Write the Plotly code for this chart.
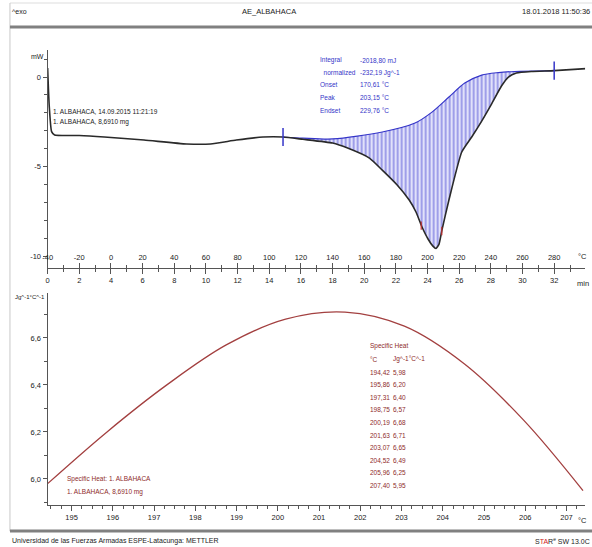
import plotly.graph_objects as go

W, H = 592, 547


def px(x):
    return x / W


def py(y):
    return 1 - y / H


# ---------------- data ----------------
# DSC curve (time in min, heat flow in mW)
dsc_time = [0.0, 0.1, 0.25, 0.44, 2.0, 3.58, 6.09, 8.78, 10.29, 11.92, 13.61, 14.87,
            16.12, 18.0, 18.95, 20.33, 21.14, 22.08, 22.84, 23.27, 23.65, 24.03, 24.34,
            24.53, 24.72, 24.91, 25.35, 26.16, 26.79, 27.42, 28.04, 28.67, 29.11, 29.61,
            30.55, 32.0, 34.0]
dsc_mw = [0.5, -1.6, -3.05, -3.24, -3.27, -3.35, -3.52, -3.74, -3.74, -3.52, -3.35, -3.35,
          -3.48, -3.69, -3.97, -4.53, -5.20, -6.03, -6.87, -7.54, -8.38, -9.05, -9.45,
          -9.58, -9.35, -8.55, -6.87, -4.19, -3.35, -2.46, -1.51, -0.50, 0.0, 0.22,
          0.31, 0.36, 0.47]

# integration baseline
base_time = [14.87, 16.12, 18.0, 21.14, 23.21, 24.28, 25.35, 26.35, 27.42, 28.48, 29.49, 32.0]
base_mw = [-3.35, -3.41, -3.46, -3.07, -2.57, -1.96, -1.12, -0.34, 0.11, 0.25, 0.31, 0.36]

# small onset / endset markers
mark_time = [23.6, 24.9]
mark_mw = [-8.3, -8.6]

T_START = -40.0      # degC at t = 0
RATE = 10.0          # K/min
TIME_RANGE = [0.0, 33.95]

time_ticks = list(range(0, 33, 2))
temp_ticks = list(range(-40, 281, 20))

# integration results
result_labels = ["Integral", "  normalized", "Onset", "Peak", "Endset"]
result_values = ["-2018,80 mJ", "-232,19 Jg^-1", "170,61 °C", "203,15 °C", "229,76 °C"]

# specific heat
cp_temp = [194.42, 195.86, 197.31, 198.75, 200.19, 201.63, 203.07, 204.52, 205.96, 207.40]
cp_val = [5.98, 6.20, 6.40, 6.57, 6.68, 6.71, 6.65, 6.49, 6.25, 5.95]
cp_ticks = list(range(195, 208))
cp_yticks = [6.0, 6.2, 6.4, 6.6]

FONT = "Liberation Sans Narrow, Liberation Sans, Arial, sans-serif"
BLUE = "#3535c8"
DRED = "#8e2b2b"
CURVE_RED = "#a34040"
AX = "#555555"

fig = go.Figure()

# ---- DSC traces ----
seg_t = [t for t in dsc_time if base_time[0] <= t <= base_time[-1]]
seg_m = [m for t, m in zip(dsc_time, dsc_mw) if base_time[0] <= t <= base_time[-1]]

fig.add_trace(go.Scatter(x=seg_t, y=seg_m, mode="lines", xaxis="x", yaxis="y",
                         line=dict(color="rgba(0,0,0,0)", width=0, shape="spline", smoothing=0.5),
                         hoverinfo="skip", showlegend=False))
fig.add_trace(go.Scatter(x=base_time, y=base_mw, mode="lines", xaxis="x", yaxis="y",
                         line=dict(color=BLUE, width=1.2, shape="spline", smoothing=0.8),
                         fill="tonexty", fillcolor="rgba(195,195,245,0.6)",
                         fillpattern=dict(shape="|", fgcolor="rgba(50,50,205,0.85)",
                                          bgcolor="rgba(200,200,245,0.55)", size=4, solidity=0.45),
                         hoverinfo="skip", showlegend=False))
fig.add_trace(go.Scatter(x=dsc_time, y=dsc_mw, mode="lines", xaxis="x", yaxis="y",
                         line=dict(color="#2a2a2a", width=1.6, shape="spline", smoothing=0.5),
                         showlegend=False))
# integration limits
fig.add_trace(go.Scatter(x=[base_time[0], base_time[-1]], y=[base_mw[0], base_mw[-1]],
                         mode="markers", xaxis="x", yaxis="y",
                         marker=dict(symbol="line-ns", size=13, line=dict(color=BLUE, width=1.5)),
                         showlegend=False))
fig.add_trace(go.Scatter(x=mark_time, y=mark_mw, mode="markers", xaxis="x", yaxis="y",
                         marker=dict(symbol="line-ns", size=6, line=dict(color="#c03030", width=1.2)),
                         showlegend=False))
# dummy for temperature axis
fig.add_trace(go.Scatter(x=[T_START + RATE * TIME_RANGE[0], T_START + RATE * TIME_RANGE[1]],
                         y=[0, 0], mode="markers", xaxis="x3", yaxis="y",
                         marker=dict(opacity=0), hoverinfo="skip", showlegend=False))

# ---- Cp trace ----
fig.add_trace(go.Scatter(x=cp_temp, y=cp_val, mode="lines", xaxis="x2", yaxis="y2",
                         line=dict(color=CURVE_RED, width=1.3, shape="spline", smoothing=1.0),
                         showlegend=False))

tickfont = dict(family=FONT, size=7.5, color="#222")
xdom = [px(43), px(585)]

fig.update_layout(
    width=W, height=H,
    margin=dict(l=0, r=0, t=0, b=0),
    paper_bgcolor="white", plot_bgcolor="white",
    font=dict(family=FONT, size=7.5, color="#222"),
    showlegend=False,
    xaxis=dict(domain=xdom, anchor="y", range=TIME_RANGE, tickvals=time_ticks,
               ticktext=[str(v) for v in time_ticks],
               showgrid=False, zeroline=False, showline=True, linecolor=AX, linewidth=1.2,
               ticks="outside", ticklen=5, tickcolor=AX, tickfont=tickfont,
               minor=dict(dtick=1, tick0=0, ticks="outside", ticklen=3, tickcolor=AX, showgrid=False)),
    xaxis3=dict(overlaying="x", side="top", anchor="free", position=py(268),
                range=[T_START + RATE * TIME_RANGE[0], T_START + RATE * TIME_RANGE[1]],
                tickvals=temp_ticks, ticktext=[str(v) for v in temp_ticks],
                showgrid=False, zeroline=False, showline=False,
                ticks="outside", ticklen=5, tickcolor=AX, tickfont=tickfont,
                minor=dict(dtick=10, tick0=-40, ticks="outside", ticklen=3, tickcolor=AX, showgrid=False)),
    yaxis=dict(domain=[py(268), py(50)], anchor="x", range=[-10.67, 1.51],
               tickvals=[-10, -5, 0], ticktext=["-10", "-5", "0"],
               showgrid=False, zeroline=False, showline=True, linecolor=AX, linewidth=1.2,
               ticks="outside", ticklen=4, tickcolor=AX, tickfont=tickfont,
               minor=dict(dtick=1, tick0=0, ticks="outside", ticklen=3, tickcolor=AX, showgrid=False)),
    xaxis2=dict(domain=xdom, anchor="y2", range=[194.42, 207.45], tickvals=cp_ticks,
                ticktext=[str(v) for v in cp_ticks],
                showgrid=False, zeroline=False, showline=True, linecolor=AX, linewidth=1.2,
                ticks="outside", ticklen=5, tickcolor=AX, tickfont=tickfont,
                minor=dict(dtick=0.25, tick0=195, ticks="outside", ticklen=3, tickcolor=AX, showgrid=False)),
    yaxis2=dict(domain=[py(505), py(293)], anchor="x2", range=[5.889, 6.791],
                tickvals=cp_yticks, ticktext=[f"{v:.1f}".replace(".", ",") for v in cp_yticks],
                showgrid=False, zeroline=False, showline=True, linecolor=AX, linewidth=1.2,
                ticks="outside", ticklen=4, tickcolor=AX, tickfont=tickfont,
                minor=dict(dtick=0.1, tick0=6.0, ticks="outside", ticklen=3, tickcolor=AX, showgrid=False)),
)

# ---- frame shapes ----
shapes = [
    dict(type="line", xref="paper", yref="paper", x0=px(5), x1=1, y0=py(3), y1=py(3),
         line=dict(color="#dddddd", width=1)),
    dict(type="line", xref="paper", yref="paper", x0=px(5), x1=px(5), y0=py(3), y1=py(531),
         line=dict(color="#c8c8c8", width=1)),
    dict(type="line", xref="paper", yref="paper", x0=px(5), x1=1, y0=py(27), y1=py(27),
         line=dict(color="#808080", width=3)),
    dict(type="line", xref="paper", yref="paper", x0=px(5), x1=1, y0=py(531), y1=py(531),
         line=dict(color="#808080", width=3)),
]
fig.update_layout(shapes=shapes)

ann = []


def add_text(x, y, text, color="#222", size=7, xanchor="left"):
    ann.append(dict(x=px(x), y=py(y), xref="paper", yref="paper", text=text, showarrow=False,
                    xanchor=xanchor, yanchor="middle", borderpad=0,
                    font=dict(family=FONT, size=size, color=color)))


# header / footer
add_text(6, 11, "^exo", size=7)
add_text(266, 11, "AE_ALBAHACA", size=7.5, xanchor="center")
add_text(591, 11, "18.01.2018 11:50:36", size=7.5, xanchor="right")
add_text(6, 541, "Universidad de las Fuerzas Armadas ESPE-Latacunga: METTLER", size=7)
add_text(591, 541, "S<span style='color:#d02020'>TA</span>R<sup>e</sup> SW 13.0C", size=7, xanchor="right")

# top axis labels
add_text(40, 57, "mW", size=7, xanchor="right")
add_text(588, 256, "°C", size=7.5, xanchor="right")
add_text(590, 283, "min", color="#222222", size=7.5, xanchor="right")

# sample info
add_text(47, 111, "1. ALBAHACA, 14.09.2015 11:21:19", size=6.5)
add_text(47, 122, "1. ALBAHACA, 8,6910 mg", size=6.5)

# integration results
for i, (lab, val) in enumerate(zip(result_labels, result_values)):
    yy = 60 + i * 12.5
    add_text(317, yy, lab.replace(" ", "&nbsp;"), color=BLUE, size=6.5)
    add_text(357, yy, val, color=BLUE, size=6.5)

# bottom axis labels
add_text(41, 297, "Jg^-1°C^-1", size=6, xanchor="right")
add_text(588, 520, "°C", size=7.5, xanchor="right")

# specific heat table
add_text(367, 346, "Specific Heat", color=DRED, size=6.5)
add_text(367, 359, "°C", color=DRED, size=6.5)
add_text(390, 359, "Jg^-1°C^-1", color=DRED, size=6.5)
for i, (t, v) in enumerate(zip(cp_temp, cp_val)):
    yy = 372 + i * 12.6
    add_text(367, yy, f"{t:.2f}".replace(".", ","), color=DRED, size=6.5)
    add_text(390, yy, f"{v:.2f}".replace(".", ","), color=DRED, size=6.5)

add_text(62, 479, "Specific Heat: 1. ALBAHACA", color=DRED, size=6.5)
add_text(62, 492, "1. ALBAHACA, 8,6910 mg", color=DRED, size=6.5)

fig.update_layout(annotations=ann)

fig.write_html("out.html", config={"displayModeBar": False},
               post_script="document.body.style.margin='0px';")
